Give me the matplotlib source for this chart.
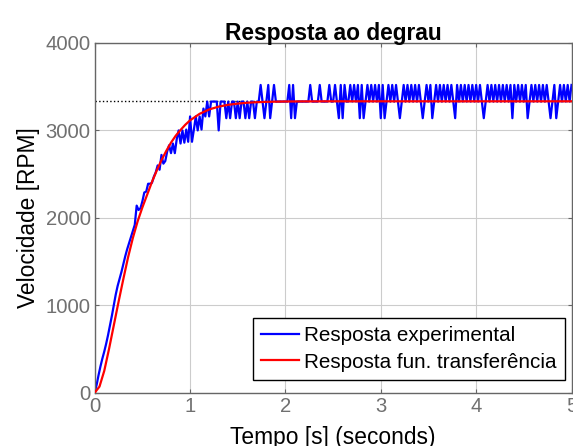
import numpy as np
import matplotlib
matplotlib.use('Agg')
import matplotlib.pyplot as plt

plt.rcParams['font.family'] = ['Liberation Sans', 'DejaVu Sans']

# experimental step response, sampled every 0.02 s
dt = 0.02
blue_rise = [
    0, 90, 200, 300, 390, 470, 560, 660, 770, 880,
    1000, 1120, 1220, 1300, 1380, 1470, 1560, 1640, 1710, 1780,
    1850, 1920, 2140, 2090, 2110, 2190, 2290, 2300, 2390, 2390,
    2400, 2470, 2520, 2600, 2550, 2720, 2620, 2650, 2760, 2830,
    2740, 2850, 2740, 2900, 3000, 2850, 3000, 2860, 3010, 2870,
    3160, 2870, 3010, 3160, 3000, 3160, 3010, 3250, 3160, 3330,
    3160, 3330, 3330, 3330, 3330, 3000, 3330, 3330, 3330, 3140,
]
blue_steady = [
    3330, 3140, 3330, 3330, 3140, 3330, 3140, 3330, 3330, 3140,
    3330, 3140, 3330, 3330, 3140, 3330, 3330, 3520, 3330, 3140,
    3330, 3520, 3140, 3330, 3520, 3330, 3330, 3330, 3330, 3330,
    3330, 3330, 3520, 3140, 3520, 3140, 3330, 3330, 3330, 3330,
    3330, 3330, 3330, 3520, 3330, 3330, 3330, 3330, 3520, 3330,
    3330, 3330, 3330, 3520, 3330, 3330, 3520, 3330, 3140, 3520,
    3140, 3520, 3330, 3330, 3520, 3330, 3520, 3330, 3520, 3140,
    3520, 3140, 3330, 3520, 3330, 3520, 3330, 3520, 3330, 3520,
    3140, 3520, 3140, 3330, 3520, 3330, 3520, 3330, 3520, 3330,
    3140, 3330, 3520, 3330, 3520, 3330, 3520, 3330, 3520, 3330,
    3520, 3330, 3140, 3330, 3520, 3330, 3520, 3140, 3330, 3520,
    3330, 3520, 3330, 3520, 3330, 3520, 3330, 3520, 3330, 3140,
    3520, 3330, 3520, 3330, 3520, 3330, 3520, 3330, 3520, 3330,
    3520, 3330, 3520, 3330, 3140, 3330, 3520, 3330, 3520, 3330,
    3520, 3330, 3520, 3330, 3520, 3330, 3520, 3330, 3520, 3140,
    3520, 3330, 3520, 3330, 3520, 3330, 3520, 3140, 3330, 3520,
    3330, 3520, 3330, 3520, 3330, 3520, 3330, 3520, 3330, 3140,
    3330, 3520, 3140, 3330, 3520, 3330, 3520, 3330, 3520, 3330,
    3520,
]
blue = np.array(blue_rise + blue_steady)
t_blue = np.arange(len(blue)) * dt

# transfer function response
t_red = [0.0, 0.05, 0.10, 0.15, 0.20, 0.25, 0.30, 0.35, 0.40, 0.45,
         0.50, 0.55, 0.60, 0.65, 0.70, 0.75, 0.80, 0.85, 0.90, 0.95,
         1.00, 1.10, 1.20, 1.30, 1.40, 1.50, 1.60, 1.70, 1.80, 2.00,
         2.50, 5.00]
red = [0, 70, 250, 500, 770, 1040, 1300, 1550, 1770, 1960,
       2120, 2265, 2410, 2540, 2660, 2765, 2860, 2940, 3005, 3065,
       3115, 3190, 3240, 3272, 3293, 3307, 3317, 3323, 3327, 3331,
       3333, 3333]
final_value = 3333

fig = plt.figure(figsize=(5.73, 4.46), dpi=100)
ax = fig.add_axes([0.1653, 0.1195, 0.8321, 0.7841])

ax.axhline(final_value, color='k', ls=':', lw=1.0, zorder=1)
ax.plot(t_blue, blue, color='#0000ff', lw=1.6, label='Resposta experimental', zorder=2)
ax.plot(t_red, red, color='#ff0000', lw=1.6, label='Resposta fun. transferência', zorder=3)

ax.set_xlim(0, 5)
ax.set_ylim(0, 4000)
ax.set_xticks([0, 1, 2, 3, 4, 5])
ax.set_yticks([0, 1000, 2000, 3000, 4000])
ax.grid(True, color='#cccccc', lw=0.8)
ax.set_axisbelow(True)

for s in ax.spines.values():
    s.set_color('#666666')
    s.set_linewidth(1.0)
ax.tick_params(direction='in', length=3, width=0.8, colors='#666666',
               labelcolor='#707070', labelsize=14.6, top=True, right=True, pad=3)

ax.set_title('Resposta ao degrau', fontsize=16.4, fontweight='bold', pad=2)
ax.set_xlabel('Tempo [s] (seconds)', fontsize=16.4, labelpad=7)
ax.set_ylabel('Velocidade [RPM]', fontsize=16.4, labelpad=4)

leg = ax.legend(loc='lower right', bbox_to_anchor=(0.9864, 0.0363), borderaxespad=0,
                fontsize=14.9, fancybox=False, edgecolor='k', framealpha=1,
                handlelength=1.85, handletextpad=0.25, borderpad=0.4, labelspacing=0.38)
leg.get_frame().set_linewidth(1.0)

fig.savefig('out.png', dpi=100)
